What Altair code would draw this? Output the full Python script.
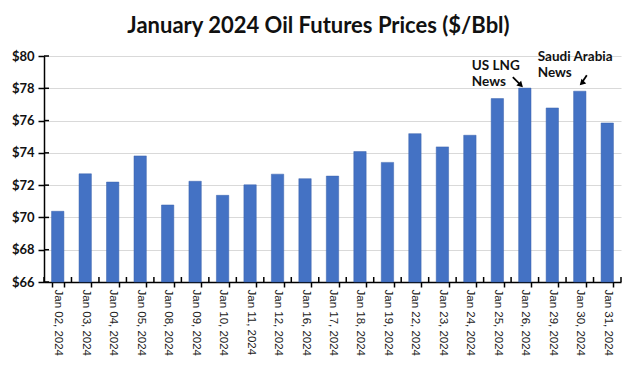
import altair as alt
import pandas as pd

dates = ["Jan 02, 2024", "Jan 03, 2024", "Jan 04, 2024", "Jan 05, 2024", "Jan 08, 2024",
         "Jan 09, 2024", "Jan 10, 2024", "Jan 11, 2024", "Jan 12, 2024", "Jan 16, 2024",
         "Jan 17, 2024", "Jan 18, 2024", "Jan 19, 2024", "Jan 22, 2024", "Jan 23, 2024",
         "Jan 24, 2024", "Jan 25, 2024", "Jan 26, 2024", "Jan 29, 2024", "Jan 30, 2024",
         "Jan 31, 2024"]
prices = [70.38, 72.70, 72.19, 73.81, 70.77, 72.24, 71.37, 72.02, 72.68, 72.40,
          72.56, 74.08, 73.41, 75.19, 74.37, 75.09, 77.36, 78.01, 76.78, 77.82, 75.85]
y_ticks = [66, 68, 70, 72, 74, 76, 78, 80]

ann_dates = ["Jan 26, 2024", "Jan 30, 2024"]
ann_values = [78.01, 77.82]

df = pd.DataFrame({"date": dates, "price": prices})
ann = pd.DataFrame({"date": ann_dates, "price": ann_values})
yt = pd.DataFrame({"price": y_ticks})

W, H = 577, 226
step = W / len(dates)

xscale = alt.Scale(domain=dates, paddingInner=0.55, paddingOuter=0.275)
yscale = alt.Scale(domain=[66, 80], nice=False, zero=False)

xe = alt.X("date:N", scale=xscale, sort=None, title=None,
           axis=alt.Axis(labelAngle=90, labelAlign="left", labelBaseline="middle",
                         labelFont="Liberation Sans", labelFontSize=11.5, labelColor="#1a1a1a",
                         labelPadding=2, tickBand="extent", tickSize=5, tickColor="black",
                         domainColor="black", domainWidth=1.5, tickWidth=1.5,
                         grid=False, labelOverlap=False))
ye = alt.Y("price:Q", scale=yscale, title=None,
           axis=alt.Axis(values=y_ticks, format="$d", labelFont="Lato", labelFontWeight="bold",
                         labelFontSize=13, labelColor="#111111", labelPadding=4,
                         labelOverlap=False, labelFlush=False,
                         tickSize=6, tickColor="black", tickWidth=1.5,
                         domainColor="black", domainWidth=1.5,
                         grid=True, gridColor="#d9d9d9", gridWidth=1))

bars = alt.Chart(df).mark_bar(color="#4472C4", stroke="#3a63ad", strokeWidth=0.5).encode(
    x=xe, y=ye, y2=alt.datum(66))

# inner halves of the crossing tick marks
ytick_in = alt.Chart(yt).mark_rule(color="black", strokeWidth=1.5).encode(
    y=ye, x=alt.value(0), x2=alt.value(5))
xtick_in = alt.Chart(df).mark_rule(color="black", strokeWidth=1.5, xOffset=-step / 2,
                                   x2Offset=-step / 2).encode(
    x=xe, x2="date:N", y=alt.value(H), y2=alt.value(H - 5))
xtick_last = alt.Chart(df.tail(1)).mark_rule(color="black", strokeWidth=1.5, xOffset=step / 2,
                                             x2Offset=step / 2).encode(
    x=xe, x2="date:N", y=alt.value(H), y2=alt.value(H - 5))

ann_font = dict(font="Lato", fontWeight="bold", fontSize=13.5, color="#111111", align="left")

lng = ann.iloc[[0]]
saudi = ann.iloc[[1]]

lng_text = alt.Chart(lng).mark_text(baseline="middle", dx=-53, dy=-22, **ann_font).encode(
    x=xe, y=ye, text=alt.value("US LNG"))
lng_text2 = alt.Chart(lng).mark_text(baseline="middle", dx=-53, dy=-6, **ann_font).encode(
    x=xe, y=ye, text=alt.value("News"))
sa_text = alt.Chart(saudi).mark_text(baseline="middle", dx=-42, dy=-34, **ann_font).encode(
    x=xe, y=ye, text=alt.value("Saudi Arabia"))
sa_text2 = alt.Chart(saudi).mark_text(baseline="middle", dx=-42, dy=-18, **ann_font).encode(
    x=xe, y=ye, text=alt.value("News"))

enc_rule = dict(x=xe, x2="date:N", y=ye, y2="price:Q")
lng_arrow = alt.Chart(lng).mark_rule(color="black", strokeWidth=1.8, xOffset=-12, yOffset=-11,
                                     x2Offset=-5, y2Offset=-4).encode(**enc_rule)
lng_head = alt.Chart(lng).mark_point(shape="triangle-up", filled=True, color="black", size=45,
                                     angle=135, opacity=1, xOffset=-4, yOffset=-3).encode(x=xe, y=ye)
sa_arrow = alt.Chart(saudi).mark_rule(color="black", strokeWidth=1.8, xOffset=7, yOffset=-16,
                                      x2Offset=3, y2Offset=-10).encode(**enc_rule)
sa_head = alt.Chart(saudi).mark_point(shape="triangle-up", filled=True, color="black", size=45,
                                      angle=225, opacity=1, xOffset=2, yOffset=-8).encode(x=xe, y=ye)

chart = alt.layer(bars, ytick_in, xtick_in, xtick_last, lng_text, lng_text2, sa_text, sa_text2,
                  lng_arrow, lng_head, sa_arrow, sa_head).properties(
    width=W, height=H,
    title=alt.Title("January 2024 Oil Futures Prices ($/Bbl)", font="Lato", fontSize=22,
                    fontWeight="bold", color="#111111", offset=12, dx=-14),
    autosize=alt.AutoSizeParams(type="none"),
    padding={"left": 36, "top": 48, "right": 7, "bottom": 77},
    background="white",
).configure_view(stroke=None)

chart.save("out.html", embed_options={"renderer": "svg", "actions": False})
